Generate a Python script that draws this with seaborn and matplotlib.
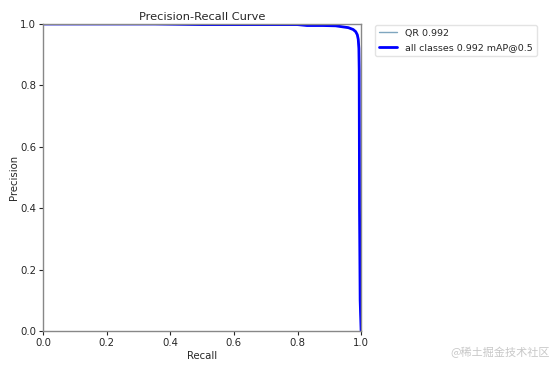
import numpy as np
import pandas as pd
import matplotlib
matplotlib.use("Agg")
import matplotlib.pyplot as plt
import seaborn as sns

sns.set_style("white")
plt.rcParams['font.family'] = ['DejaVu Sans', 'Noto Sans CJK SC']

# PR curve
recall = [0.0, 0.10, 0.20, 0.35, 0.50, 0.65, 0.80, 0.83, 0.88, 0.92, 0.94, 0.96,
          0.975, 0.983, 0.988, 0.991, 0.993, 0.994, 0.995, 0.997, 1.0]
precision = [1.0, 1.0, 1.0, 1.0, 0.998, 0.998, 0.998, 0.995, 0.995, 0.994, 0.991, 0.988,
             0.982, 0.975, 0.965, 0.95, 0.92, 0.85, 0.40, 0.10, 0.0]
class_label = "QR 0.992"
all_label = "all classes 0.992 mAP@0.5"
watermark = "@稀土掘金技术社区"

df = pd.DataFrame({"Recall": recall, "Precision": precision})

fig = plt.figure(figsize=(5.53, 3.69), dpi=100)
ax = fig.add_axes([0.078, 0.103, 0.575, 0.832])

sns.lineplot(data=df, x="Recall", y="Precision", ax=ax, sort=False, estimator=None,
             color="#7fa6bf", linewidth=1, label=class_label)
sns.lineplot(data=df, x="Recall", y="Precision", ax=ax, sort=False, estimator=None,
             color="blue", linewidth=2.0, label=all_label)

ax.set_xlim(0, 1)
ax.set_ylim(0, 1)
ax.set_xlabel("Recall", fontsize=7.3, labelpad=2)
ax.set_ylabel("Precision", fontsize=7.3, labelpad=1)
ax.set_title("Precision-Recall Curve", fontsize=8.2, pad=3)
ax.tick_params(axis="both", labelsize=7.3, length=3, width=0.8, bottom=True, left=True, pad=2)
for s in ax.spines.values():
    s.set_edgecolor("#888888")
    s.set_linewidth(1.0)

ax.legend(bbox_to_anchor=(1.04, 1), loc="upper left", fontsize=6.8, frameon=True,
          edgecolor="#dddddd", fancybox=True, handlelength=2.0, borderaxespad=0.1,
          labelspacing=0.6)

fig.text(0.995, 0.03, watermark, fontsize=8, color="#c8c8c8", ha="right", va="bottom",
         family=['Noto Sans CJK SC', 'DejaVu Sans'])

fig.savefig("out.png", dpi=100)
